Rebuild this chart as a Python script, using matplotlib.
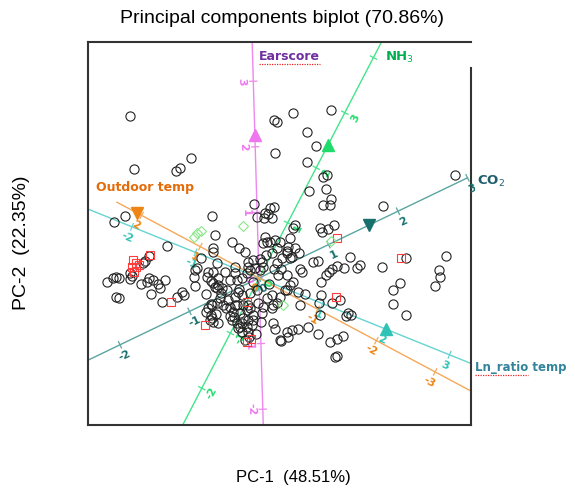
import matplotlib.pyplot as plt
from matplotlib.lines import Line2D
import numpy as np

# PC scores of the samples (chart units)
scores_circle = np.array([
    (-12.9, 16.2), (-12.5, 10.9), (-8.3, 10.7), (-7.9, 11.0), (-6.8, 12.0), (-13.4, 6.2), (-14.5, 5.6),
    (-4.7, 6.2), (-0.5, 7.4), (-0.2, 6.1), (0.5, 6.0), (0.6, 6.5), (7.2, 16.8), (3.4, 16.5), (1.5, 15.8),
    (1.8, 15.6), (4.8, 14.6), (5.7, 13.2), (1.6, 12.5), (4.8, 11.6), (6.4, 10.1), (6.8, 10.3), (6.7, 8.9),
    (5.0, 8.7), (7.2, 7.9), (6.4, 7.3), (7.1, 7.3), (1.5, 7.1), (1.1, 7.0), (0.9, 6.4), (1.3, 6.0),
    (12.4, 7.2), (19.6, 10.3), (3.6, 5.3), (6.1, 5.0), (6.9, 4.9), (7.5, 5.3), (3.4, 5.0), (3.1, 4.0),
    (6.3, 4.6), (2.1, 3.6), (2.8, 2.5), (3.3, 2.1), (4.0, 2.5), (5.4, 1.6), (5.9, 1.7), (4.1, 0.9),
    (4.3, 0.6), (7.3, 0.9), (7.0, 0.6), (6.7, 0.3), (7.8, 1.2), (8.5, 1.0), (9.1, 2.1), (9.8, 1.0),
    (10.1, 1.3), (12.3, 1.1), (14.7, 2.0), (18.7, 2.2), (18.0, 0.8), (18.1, 0.1), (17.6, -0.8),
    (14.1, -0.5), (13.4, -1.2), (13.4, -2.6), (14.7, -3.7), (6.2, -0.4), (6.2, -1.7), (6.0, -2.5),
    (4.6, -1.6), (3.9, -1.4), (7.3, -2.5), (3.1, -0.7), (2.8, -1.2), (8.1, -2.2), (8.9, -3.5),
    (9.2, -3.7), (8.7, -3.8), (4.9, -4.9), (3.9, -5.1), (5.9, -5.6), (8.4, -5.8), (7.8, -6.1),
    (7.1, -6.4), (7.6, -7.9), (7.8, -7.8), (1.6, -5.1), (2.2, -6.3), (2.9, -5.9), (6.1, -3.7),
    (-9.2, 3.2), (-11.0, 2.2), (-11.4, 1.7), (-11.6, 1.5), (-14.3, 0.1), (-14.6, 0.0), (-14.0, 0.0),
    (-15.2, -0.4), (-12.9, -0.1), (-12.7, 0.2), (-11.0, 0.0), (-10.6, -0.2), (-10.1, -0.6), (-9.9, -1.0),
    (-9.4, -0.2), (-11.8, -0.6), (-10.8, -1.6), (-14.3, -1.9), (-14.0, -2.0), (-9.7, -2.4), (-7.7, -1.4),
    (-7.5, -1.7), (-5.3, -1.6), (-5.8, 2.0), (-6.4, 0.8), (-6.2, 1.0), (-6.5, 0.1), (-6.4, -0.8),
    (-5.1, 0.6), (-5.2, 0.1), (-4.6, 0.6), (-4.8, -0.3), (-4.4, -0.9), (-4.8, -2.6), (-5.1, -3.0),
    (-5.3, -3.4), (-4.8, -3.7), (-4.3, -3.6), (-4.6, -4.4), (-4.1, -4.5), (-2.7, 3.6), (-4.6, 3.0),
    (-4.2, 1.5), (-0.6, 1.8), (-1.1, 1.6), (0.3, 1.6), (0.6, 4.1), (0.8, 3.6), (1.6, 3.8), (1.8, 3.0),
    (-0.9, 0.8), (-1.2, 0.5), (-4.1, -0.7), (-3.2, -1.2), (-2.1, -1.4), (-2.4, -1.9), (-8.2, -1.9),
    (-11.2, -0.4), (-12.9, 0.5), (-2.4, 1.1), (-3.7, -1.0), (-2.4, -2.7), (-1.1, -2.7), (-0.1, -2.5),
    (0.4, -2.9), (1.8, -2.5), (-4.4, 4.3), (0.4, 3.5), (1.1, 3.6), (2.9, 3.1), (2.8, 2.7), (3.6, 3.0),
    (-4.6, 2.6), (1.3, 2.5), (1.8, 1.5), (2.3, 2.0), (3.1, 2.0), (0.1, 1.9), (-1.1, 1.1), (-0.4, 1.0),
    (0.1, 0.8), (0.4, 1.1), (-2.4, 0.5), (-2.9, -0.2), (-2.2, -0.2), (-1.7, 0.0), (-3.4, 0.6),
    (-4.1, 0.0), (-4.6, -0.5), (-4.2, -1.0), (1.9, 0.3), (2.8, 0.3), (3.4, -0.4), (2.6, -1.2),
    (2.1, -1.9), (1.3, -1.7), (0.8, -2.0), (1.4, -2.7), (-0.9, -1.5), (-1.7, -1.7), (-3.1, -2.2),
    (-3.9, -2.0), (-3.6, -2.7), (-2.9, -2.9), (-2.2, -2.7), (-1.6, -2.7), (-2.6, -3.4), (-1.9, -3.5),
    (-1.2, -3.2), (-1.6, -4.0), (-1.1, -4.2), (-1.7, -4.5), (-1.2, -4.9), (-0.7, -4.7), (-2.1, -5.0),
    (-1.7, -5.4), (-1.1, -5.4), (-0.6, -3.7), (-4.7, -4.0), (1.4, -4.5), (2.1, -6.2), (2.8, -5.4),
    (3.3, -5.2), (4.1, -2.7), (-4.2, -2.5), (-4.7, -2.7), (-4.9, -4.2), (-2.7, -4.2), (-2.2, -4.5),
    (-1.9, -4.9), (-0.6, -4.2), (0.3, -3.5), (1.3, -3.0), (-2.5, -3.9), (-0.9, -3.0), (-2.9, -3.8),
    (-0.3, -5.6), (-1.4, -6.2), (-1.0, -5.9), (-3.3, -3.0), (0.2, -4.4), (-2.0, -1.1), (-0.6, -0.4),
    (1.0, -0.6), (-0.2, -1.2), (1.5, 0.9), (-3.8, -1.5), (0.7, 2.3), (2.2, 0.9), (-1.4, 2.6), (-2.0, 3.0),
])
scores_square = np.array([
    (-12.6, 1.8), (-12.3, 1.5), (-12.7, 1.1), (-12.3, 1.1), (-12.0, 1.3), (-12.5, 0.6), (-10.9, 2.3),
    (-8.8, -2.4), (-5.4, -4.7), (-1.2, -2.4), (-0.8, -6.1), (-1.2, -6.4), (7.8, 4.0), (14.2, 2.0),
    (7.7, -1.9),
])
scores_diamond = np.array([
    (-6.5, 4.1), (-6.2, 4.5), (-5.8, 4.7), (-1.6, 5.2), (7.2, 3.7), (2.4, -2.7),
])

# calibrated biplot axes: position of marker value 1 for each variable
var_names = ['Earscore', 'NH$_3$', 'CO$_2$', 'Ln_ratio temp', 'Outdoor temp']
unit_pc1 = [-0.19, 2.86, 6.95, 6.35, -5.87]
unit_pc2 = [6.56, 5.51, 3.34, -2.56, 3.13]
axis_lo = [-2.5, -2.8, -2.45, -2.8, -3.7]
axis_hi = [3.7, 4.4, 3.0, 3.4, 2.42]
tick_vals = [[-2, -1, 0, 1, 2, 3], [-2, -1, 0, 1, 2, 3, 4], [-2, -1, 0, 1, 2, 3],
             [-2, -1, 0, 1, 2, 3], [-3, -2, -1, 0, 1, 2]]
tick_hidden = [[], [4], [], [], []]
arrow_val = [2.18, 2.41, 1.58, 2.0, 2.08]

line_cols = ['#ee88ee', '#44e48a', '#5aa5a2', '#66d4d0', '#f5a85a']
mark_cols = ['#ee77ee', '#1fdc6a', '#17706c', '#2ec3b6', '#ee8414']
name_cols = ['#7030a0', '#00b050', '#215f6e', '#31849b', '#e36c09']
arrow_mk = ['^', '^', 'v', '^', 'v']
label_side = [1, -1, -1, -1, 1]

fig = plt.figure(figsize=(5.75, 4.91), dpi=100)
ax = fig.add_axes([88 / 575, 66 / 491, 383 / 575, 383 / 491])
ax.set_xlim(-17.1, 21.2)
ax.set_ylim(-14.7, 23.6)
ax.set_xticks([])
ax.set_yticks([])
for s in ['left', 'bottom', 'top', 'right']:
    ax.spines[s].set_color('#333333')
    ax.spines[s].set_linewidth(1.5)
ax.spines['right'].set_bounds(-14.7, 21.0)

# variable axes
for i in range(len(var_names)):
    u = np.array([unit_pc1[i], unit_pc2[i]])
    n = np.array([-u[1], u[0]]) / np.hypot(*u)
    vv = np.array([axis_lo[i], axis_hi[i]])
    ax.plot(vv * u[0], vv * u[1], color=line_cols[i], lw=1.0, zorder=2)
    ang = np.degrees(np.arctan2(u[1], u[0]))
    if ang > 90:
        ang -= 180
    for t in tick_vals[i]:
        c = t * u
        ax.plot([c[0] - 0.35 * n[0], c[0] + 0.35 * n[0]], [c[1] - 0.35 * n[1], c[1] + 0.35 * n[1]],
                color=line_cols[i], lw=0.9, zorder=2)
        if t in tick_hidden[i]:
            continue
        lp = c + label_side[i] * 1.15 * n
        ax.text(lp[0], lp[1], str(t), color=mark_cols[i], fontsize=8, fontweight='bold',
                rotation=ang, ha='center', va='center', zorder=3)
    a = arrow_val[i] * u
    ax.plot(a[0], a[1], marker=arrow_mk[i], color=mark_cols[i], ms=9, mec=mark_cols[i], zorder=4)

# samples
ax.plot(scores_circle[:, 0], scores_circle[:, 1], 'o', mfc='none', mec='#222222', ms=6.6, mew=0.8, zorder=3)
ax.plot(scores_square[:, 0], scores_square[:, 1], 's', mfc='none', mec='#ff3b3b', ms=6, mew=0.8, zorder=3)
ax.plot(scores_diamond[:, 0], scores_diamond[:, 1], 'D', mfc='none', mec='#88e888', ms=5.5, mew=0.8, zorder=3)

# variable names
name_x = [0.0, 12.6, 21.8, 21.6, -16.3]
name_y = [22.2, 22.1, 9.7, -8.9, 9.0]
name_size = [9, 9.5, 9.5, 8.5, 9]
name_txt = []
for i in range(len(var_names)):
    t = ax.text(name_x[i], name_y[i], var_names[i], color=name_cols[i], fontsize=name_size[i],
                fontweight='bold', ha='left', va='center', clip_on=False, zorder=6,
                bbox=dict(facecolor='white', edgecolor='none', pad=1.5))
    name_txt.append(t)

fig.text(0.49, 0.963, 'Principal components biplot (70.86%)', ha='center', va='center',
         fontsize=14, family='Liberation Sans')
fig.text(0.51, 0.027, 'PC-1  (48.51%)', ha='center', va='center', fontsize=12, family='Liberation Sans')
fig.text(0.038, 0.505, 'PC-2  (22.35%)', ha='center', va='center', rotation=90, fontsize=14,
         family='Liberation Sans')

# red spell-check underlines
fig.canvas.draw()
r = fig.canvas.get_renderer()
inv = fig.transFigure.inverted()
probe = ax.text(name_x[3], name_y[3], 'Ln_ratio', fontsize=name_size[3], fontweight='bold',
                ha='left', va='center')
for bb in [name_txt[0].get_window_extent(r), probe.get_window_extent(r)]:
    p0 = inv.transform((bb.x0, bb.y0 - 1))
    p1 = inv.transform((bb.x1, bb.y0 - 1))
    fig.add_artist(Line2D([p0[0], p1[0]], [p0[1], p1[1]], color='#ee2222', lw=0.9, ls=(0, (1, 1))))
probe.remove()

fig.savefig('out.png', dpi=100)
